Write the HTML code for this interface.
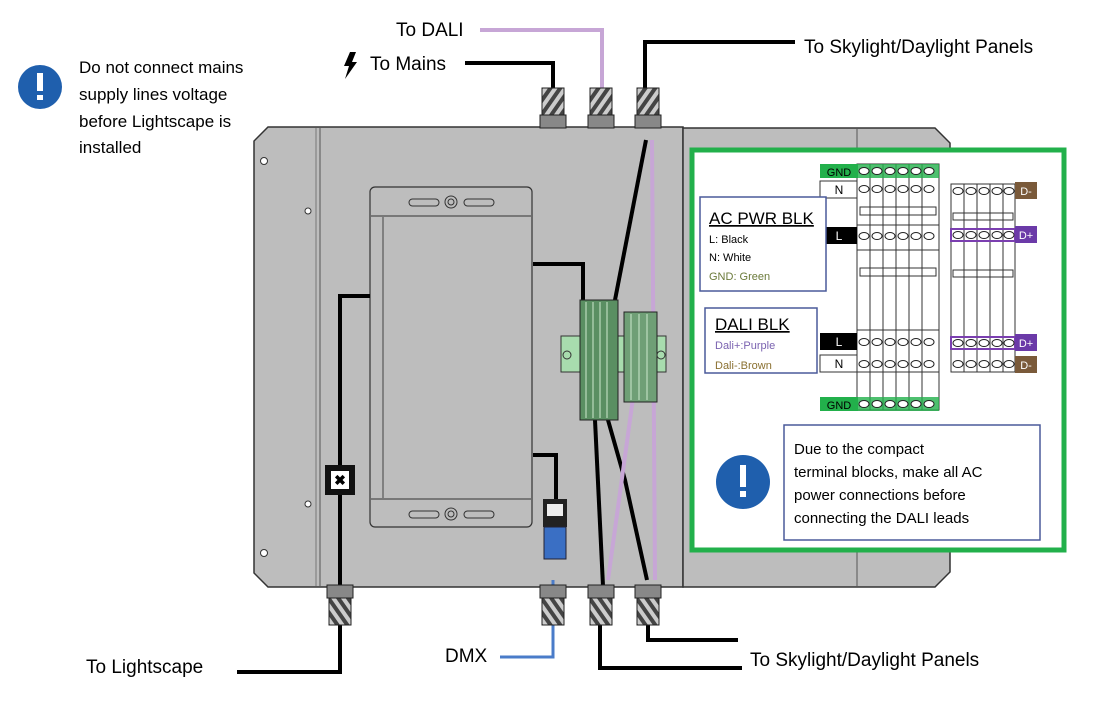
<!DOCTYPE html>
<html><head><meta charset="utf-8"><style>
body{margin:0;background:#fff;width:1105px;height:711px;overflow:hidden;font-family:"Liberation Sans",sans-serif}
svg text{font-family:"Liberation Sans",sans-serif}
</style></head><body>
<svg width="1105" height="711" viewBox="0 0 1105 711" xmlns="http://www.w3.org/2000/svg">
<defs>
<pattern id="st" width="8" height="8" patternUnits="userSpaceOnUse" patternTransform="rotate(35)">
<rect width="8" height="8" fill="#444"/><rect width="4" height="8" fill="#ccc"/></pattern>
<g id="gl"><rect x="-11" y="0" width="22" height="30" fill="url(#st)" stroke="#222"/><rect x="-13" y="27" width="26" height="13" fill="#888" stroke="#222"/></g>
<g id="ov6"><ellipse cx="864" cy="0" rx="5" ry="3.5" fill="#fff" stroke="#222"/><ellipse cx="877" cy="0" rx="5" ry="3.5" fill="#fff" stroke="#222"/><ellipse cx="890" cy="0" rx="5" ry="3.5" fill="#fff" stroke="#222"/><ellipse cx="903" cy="0" rx="5" ry="3.5" fill="#fff" stroke="#222"/><ellipse cx="916" cy="0" rx="5" ry="3.5" fill="#fff" stroke="#222"/><ellipse cx="929" cy="0" rx="5" ry="3.5" fill="#fff" stroke="#222"/></g>
<g id="ov5"><ellipse cx="958" cy="0" rx="5" ry="3.5" fill="#fff" stroke="#222"/><ellipse cx="971" cy="0" rx="5" ry="3.5" fill="#fff" stroke="#222"/><ellipse cx="984" cy="0" rx="5" ry="3.5" fill="#fff" stroke="#222"/><ellipse cx="997" cy="0" rx="5" ry="3.5" fill="#fff" stroke="#222"/><ellipse cx="1009" cy="0" rx="5" ry="3.5" fill="#fff" stroke="#222"/></g>
</defs>
<!-- main panel -->
<polygon points="268,127 683,127 683,587 268,587 254,573 254,141" fill="#bdbdbd" stroke="#333" stroke-width="1.5"/>
<polygon points="683,128 935,128 950,143 950,572 935,587 683,587" fill="#bdbdbd" stroke="#333" stroke-width="1.5"/>
<line x1="320" y1="128" x2="320" y2="586" stroke="#555"/>
<line x1="316" y1="128" x2="316" y2="586" stroke="#777"/>
<line x1="857" y1="128" x2="857" y2="586" stroke="#555"/>
<circle cx="264" cy="161" r="3.5" fill="#fff" stroke="#333"/><circle cx="308" cy="211" r="3" fill="#fff" stroke="#333"/>
<circle cx="308" cy="504" r="3" fill="#fff" stroke="#333"/><circle cx="264" cy="553" r="3.5" fill="#fff" stroke="#333"/>
<!-- driver -->
<rect x="370" y="187" width="162" height="340" rx="5" fill="#bdbdbd" stroke="#333" stroke-width="1.2"/>
<line x1="371" y1="216" x2="531" y2="216" stroke="#333"/><line x1="371" y1="499" x2="531" y2="499" stroke="#333"/>
<line x1="383" y1="217" x2="383" y2="498" stroke="#444"/>
<rect x="409" y="199" width="30" height="7" rx="3.5" fill="none" stroke="#333"/><rect x="464" y="199" width="30" height="7" rx="3.5" fill="none" stroke="#333"/>
<circle cx="451" cy="202" r="6" fill="none" stroke="#333"/><circle cx="451" cy="202" r="3" fill="none" stroke="#333"/>
<rect x="409" y="511" width="30" height="7" rx="3.5" fill="none" stroke="#333"/><rect x="464" y="511" width="30" height="7" rx="3.5" fill="none" stroke="#333"/>
<circle cx="451" cy="514" r="6" fill="none" stroke="#333"/><circle cx="451" cy="514" r="3" fill="none" stroke="#333"/>
<!-- wires -->
<g fill="none" stroke="#000" stroke-width="4">
<polyline points="370,296 340,296 340,590"/>
<polyline points="533,264 583,264 583,305"/>
<polyline points="533,455 556,455 556,500"/>
<line x1="646" y1="140" x2="615" y2="300"/>
<line x1="595" y1="420" x2="603" y2="586"/>
<polyline points="608,420 625,480 647,580"/>
<polyline points="465,63 553,63 553,95"/>
<polyline points="645,95 645,42 795,42"/>
<polyline points="600,625 600,668 742,668"/>
<polyline points="648,625 648,640 738,640"/>
<polyline points="340,625 340,672 237,672"/>
</g>
<g fill="none" stroke="#c7a6d6" stroke-width="4">
<polyline points="480,30 602,30 602,95"/>
<line x1="652" y1="140" x2="655" y2="580"/>
<line x1="633" y1="398" x2="608" y2="580"/>
</g>
<polyline points="500,657 553,657 553,580" fill="none" stroke="#4a7cc9" stroke-width="3"/>
<!-- x box -->
<rect x="325" y="465" width="30" height="30" fill="#111"/><rect x="331" y="471" width="18" height="18" fill="#fff"/>
<text x="340" y="485" text-anchor="middle" font-size="14" font-weight="bold">✖</text>
<!-- RJ45 -->
<rect x="543" y="499" width="24" height="28" fill="#222"/><rect x="547" y="504" width="16" height="12" fill="#eee"/>
<rect x="544" y="527" width="22" height="32" fill="#3a6fc4" stroke="#223"/>
<!-- terminal blocks -->
<rect x="561" y="336" width="105" height="36" fill="#a8dcae" stroke="#333"/>
<rect x="580" y="300" width="38" height="120" fill="#5a8f62" stroke="#222"/>
<rect x="624" y="312" width="33" height="90" fill="#6f9f76" stroke="#222"/>
<g stroke="#cde8cf" stroke-width="1"><line x1="586" y1="302" x2="586" y2="418"/><line x1="593" y1="302" x2="593" y2="418"/><line x1="600" y1="302" x2="600" y2="418"/><line x1="607" y1="302" x2="607" y2="418"/><line x1="631" y1="314" x2="631" y2="400"/><line x1="639" y1="314" x2="639" y2="400"/><line x1="647" y1="314" x2="647" y2="400"/></g>
<circle cx="567" cy="355" r="4" fill="none" stroke="#333"/><circle cx="661" cy="355" r="4" fill="none" stroke="#333"/>
<!-- glands -->
<use href="#gl" x="553" y="88"/><use href="#gl" x="601" y="88"/><use href="#gl" x="648" y="88"/>
<g transform="translate(0,713) scale(1,-1)"><use href="#gl" x="340" y="88"/><use href="#gl" x="553" y="88"/><use href="#gl" x="601" y="88"/><use href="#gl" x="648" y="88"/></g>
<!-- green box -->
<rect x="692" y="150" width="372" height="400" fill="#fff" stroke="#22b04b" stroke-width="5"/>
<!-- big terminal block -->
<rect x="857" y="164" width="82" height="246" fill="#fff" stroke="#333"/>
<g stroke="#333" fill="none">
<line x1="870" y1="164" x2="870" y2="410"/><line x1="883" y1="164" x2="883" y2="410"/><line x1="896" y1="164" x2="896" y2="410"/><line x1="909" y1="164" x2="909" y2="410"/><line x1="922" y1="164" x2="922" y2="410"/>
<rect x="860" y="207" width="76" height="8"/><rect x="860" y="268" width="76" height="8"/>
<line x1="857" y1="225" x2="939" y2="225"/><line x1="857" y1="250" x2="939" y2="250"/><line x1="857" y1="330" x2="939" y2="330"/><line x1="857" y1="372" x2="939" y2="372"/>
</g>
<rect x="857" y="164" width="82" height="14" fill="#22b04b" opacity="0.8"/>
<rect x="857" y="397" width="82" height="14" fill="#22b04b" opacity="0.8"/>
<use href="#ov6" y="171"/><use href="#ov6" y="189"/><use href="#ov6" y="236"/><use href="#ov6" y="342"/><use href="#ov6" y="364"/><use href="#ov6" y="404"/>
<rect x="951" y="184" width="64" height="188" fill="#fff" stroke="#333"/>
<g stroke="#333" fill="none"><line x1="964" y1="184" x2="964" y2="372"/><line x1="977" y1="184" x2="977" y2="372"/><line x1="990" y1="184" x2="990" y2="372"/><line x1="1003" y1="184" x2="1003" y2="372"/>
<rect x="953" y="213" width="60" height="7"/><rect x="953" y="270" width="60" height="7"/></g>
<rect x="951" y="229" width="64" height="12" fill="none" stroke="#7b3fb0" stroke-width="2"/>
<rect x="951" y="337" width="64" height="12" fill="none" stroke="#7b3fb0" stroke-width="2"/>
<use href="#ov5" y="191"/><use href="#ov5" y="235"/><use href="#ov5" y="343"/><use href="#ov5" y="364"/>
<!-- labels on block -->
<rect x="820" y="164" width="38" height="14" fill="#22b04b"/><text x="839" y="176" text-anchor="middle" font-size="11">GND</text>
<rect x="820" y="181" width="37" height="17" fill="#fff" stroke="#333"/><text x="839" y="194" text-anchor="middle" font-size="12">N</text>
<rect x="820" y="227" width="37" height="17" fill="#000"/><text x="839" y="240" text-anchor="middle" font-size="12" fill="#fff">L</text>
<rect x="820" y="333" width="37" height="17" fill="#000"/><text x="839" y="346" text-anchor="middle" font-size="12" fill="#fff">L</text>
<rect x="820" y="355" width="37" height="17" fill="#fff" stroke="#333"/><text x="839" y="368" text-anchor="middle" font-size="12">N</text>
<rect x="820" y="397" width="38" height="14" fill="#22b04b"/><text x="839" y="409" text-anchor="middle" font-size="11">GND</text>
<rect x="1015" y="182" width="22" height="17" fill="#7a5a3a"/><text x="1026" y="195" text-anchor="middle" font-size="11" fill="#fff">D-</text>
<rect x="1015" y="226" width="22" height="17" fill="#6b3aa8"/><text x="1026" y="239" text-anchor="middle" font-size="11" fill="#fff">D+</text>
<rect x="1015" y="334" width="22" height="17" fill="#6b3aa8"/><text x="1026" y="347" text-anchor="middle" font-size="11" fill="#fff">D+</text>
<rect x="1015" y="356" width="22" height="17" fill="#7a5a3a"/><text x="1026" y="369" text-anchor="middle" font-size="11" fill="#fff">D-</text>
<!-- legend boxes -->
<rect x="700" y="197" width="126" height="94" fill="#fff" stroke="#4a5a9a" stroke-width="1.5"/>
<text x="709" y="224" font-size="17" text-decoration="underline">AC PWR BLK</text>
<text x="709" y="243" font-size="11">L: Black</text>
<text x="709" y="261" font-size="11">N: White</text>
<text x="709" y="280" font-size="11" fill="#6b7a3a">GND: Green</text>
<rect x="705" y="308" width="112" height="65" fill="#fff" stroke="#4a5a9a" stroke-width="1.5"/>
<text x="715" y="330" font-size="17" text-decoration="underline">DALI BLK</text>
<text x="715" y="349" font-size="11" fill="#7a62b0">Dali+:Purple</text>
<text x="715" y="369" font-size="11" fill="#8a7030">Dali-:Brown</text>
<rect x="784" y="425" width="256" height="115" fill="#fff" stroke="#4a5a9a" stroke-width="1.5"/>
<text font-size="15"><tspan x="794" y="454">Due to the compact</tspan><tspan x="794" y="477">terminal blocks, make all AC</tspan><tspan x="794" y="500">power connections before</tspan><tspan x="794" y="523">connecting the DALI leads</tspan></text>
<circle cx="743" cy="482" r="27" fill="#1f5fad"/><rect x="740" y="465" width="6" height="22" fill="#fff"/><rect x="740" y="491" width="6" height="6" fill="#fff"/>
<circle cx="40" cy="87" r="22" fill="#1f5fad"/><rect x="37" y="73" width="6" height="18" fill="#fff"/><rect x="37" y="95" width="6" height="5" fill="#fff"/>
<text font-size="17"><tspan x="79" y="73">Do not connect mains</tspan><tspan x="79" y="100">supply lines voltage</tspan><tspan x="79" y="127">before Lightscape is</tspan><tspan x="79" y="153">installed</tspan></text>
<text x="396" y="36" font-size="19">To DALI</text>
<polygon points="350,52 356,52 352,62 357,62 345,79 349,66 344,66" fill="#000"/>
<text x="370" y="70" font-size="19">To Mains</text>
<text x="804" y="53" font-size="19">To Skylight/Daylight Panels</text>
<text x="750" y="666" font-size="19">To Skylight/Daylight Panels</text>
<text x="445" y="662" font-size="19">DMX</text>
<text x="86" y="673" font-size="19">To Lightscape</text>
</svg>
</body></html>
